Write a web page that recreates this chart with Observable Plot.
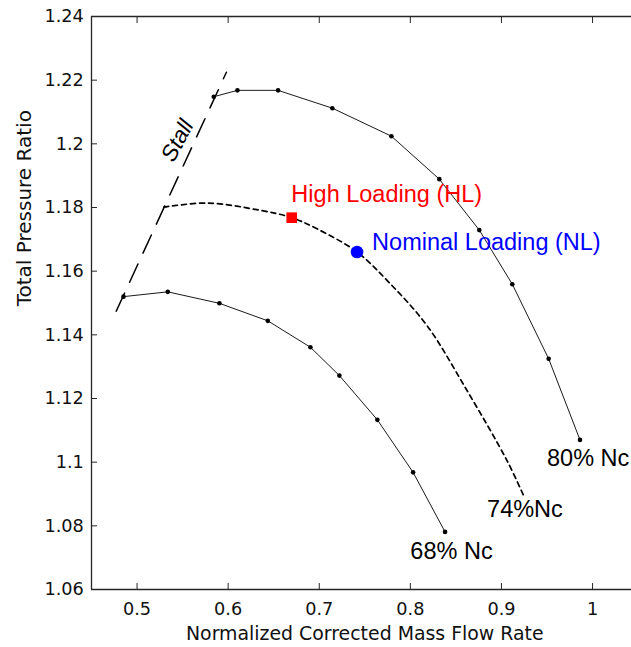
<!DOCTYPE html>
<html>
<head>
<meta charset="utf-8">
<script src="https://cdn.jsdelivr.net/npm/d3@7"></script>
<script src="https://cdn.jsdelivr.net/npm/@observablehq/plot@0.6"></script>
<style>
  html, body { margin: 0; padding: 0; background: white; overflow: hidden; }
</style>
</head>
<body>
<div id="chart"></div>
<script>
// ---- data ----
const xDomain = [0.45, 1.05];
const yDomain = [1.06, 1.24];
const xTicks = [0.5, 0.6, 0.7, 0.8, 0.9, 1];
const xTickLabels = ["0.5", "0.6", "0.7", "0.8", "0.9", "1"];
const yTicks = [1.06, 1.08, 1.1, 1.12, 1.14, 1.16, 1.18, 1.2, 1.22, 1.24];
const yTickLabels = ["1.06", "1.08", "1.1", "1.12", "1.14", "1.16", "1.18", "1.2", "1.22", "1.24"];

const speed80X = [0.5842, 0.6102, 0.6548, 0.7144, 0.7792, 0.8318, 0.8757, 0.9119, 0.9518, 0.9862];
const speed80Y = [1.2148, 1.2168, 1.2168, 1.2112, 1.2024, 1.1889, 1.1729, 1.1559, 1.1325, 1.1070];

const speed68X = [0.4851, 0.5337, 0.5904, 0.6435, 0.6903, 0.7221, 0.7638, 0.8030, 0.8381];
const speed68Y = [1.1520, 1.1535, 1.1499, 1.1444, 1.1361, 1.1272, 1.1133, 1.0968, 1.0781];

const speed74X = [0.5293, 0.5769, 0.6354, 0.6698, 0.6976, 0.7415, 0.7781, 0.8183, 0.8622, 0.9061, 0.9243];
const speed74Y = [1.1801, 1.1814, 1.1791, 1.1768, 1.1733, 1.1660, 1.1560, 1.1429, 1.1225, 1.1005, 1.0895];

const stallX = [0.4771, 0.5981];
const stallY = [1.1474, 1.2225];

const hlPoint = [0.6698, 1.1768];
const nlPoint = [0.7415, 1.1660];

const labelTexts = ["High Loading (HL)", "Nominal Loading (NL)", "80% Nc", "74%Nc", "68% Nc"];
const labelX = [0.6694, 0.7580, 0.9500, 0.8842, 0.8000];
const labelY = [1.1841, 1.1691, 1.1011, 1.0852, 1.0721];
const labelColors = ["#ff0000", "#0000ff", "#000000", "#000000", "#000000"];

const stallLabel = ["Stall"];
const stallLabelX = [0.5444];
const stallLabelY = [1.2010];

const xLabel = "Normalized Corrected Mass Flow Rate";
const yLabel = "Total Pressure Ratio";

// ---- tables ----
const toRows = (xs, ys) => xs.map((x, i) => ({x, y: ys[i]}));
const s80 = toRows(speed80X, speed80Y);
const s68 = toRows(speed68X, speed68Y);
const s74 = toRows(speed74X, speed74Y);
const stall = toRows(stallX, stallY);
const labels = labelTexts.map((t, i) => ({t, x: labelX[i], y: labelY[i], c: labelColors[i]}));
const stallLab = stallLabel.map((t, i) => ({t, x: stallLabelX[i], y: stallLabelY[i]}));

const axisColor = "#262626";
const lineColor = "#1a1a1a";

const chart = Plot.plot({
  width: 631,
  height: 647,
  marginLeft: 91,
  marginRight: 0,
  marginTop: 16,
  marginBottom: 58,
  style: {fontFamily: "DejaVu Sans, sans-serif", fontSize: "17.7px", background: "white", color: "#111"},
  x: {domain: xDomain, range: [91, 637.6], axis: null},
  y: {domain: yDomain, axis: null},
  marks: [
    // frame lines
    Plot.ruleX([xDomain[0]], {stroke: axisColor, strokeWidth: 1.3}),
    Plot.ruleY([yDomain[1]], {stroke: axisColor, strokeWidth: 1.3}),
    Plot.ruleY([yDomain[0]], {stroke: axisColor, strokeWidth: 1.3}),
    // axes
    Plot.axisX({anchor: "bottom", ticks: xTicks, tickSize: -6, tickPadding: 18.7,
      tickFormat: d => xTickLabels[xTicks.indexOf(d)], label: null, stroke: axisColor, fill: "#111"}),
    Plot.axisX({anchor: "top", ticks: xTicks, tickSize: -6, tickFormat: () => "", label: null, stroke: axisColor}),
    Plot.axisY({anchor: "left", ticks: yTicks, tickSize: -6, tickPadding: 13.7,
      tickFormat: d => yTickLabels[yTicks.indexOf(d)], label: null, stroke: axisColor, fill: "#111"}),
    // axis labels
    Plot.text([xLabel], {frameAnchor: "bottom", text: d => d, dy: 44.3, dx: 3.3, lineAnchor: "middle",
      fontSize: 18.9, fill: "#111"}),
    Plot.text([yLabel], {frameAnchor: "left", text: d => d, rotate: -90, dx: -67, dy: 3.3, lineAnchor: "middle",
      fontSize: 20, fill: "#111"}),
    // stall line
    Plot.line(stall, {x: "x", y: "y", stroke: "#000", strokeWidth: 1.5, strokeDasharray: "20,12"}),
    // speed lines
    Plot.line(s74, {x: "x", y: "y", stroke: "#000", strokeWidth: 1.7, strokeDasharray: "5,4", curve: "catmull-rom"}),
    Plot.line(s80, {x: "x", y: "y", stroke: lineColor, strokeWidth: 1}),
    Plot.dot(s80, {x: "x", y: "y", r: 2.3, fill: "#000", stroke: null}),
    Plot.line(s68, {x: "x", y: "y", stroke: lineColor, strokeWidth: 1}),
    Plot.dot(s68, {x: "x", y: "y", r: 2.3, fill: "#000", stroke: null}),
    // operating points
    Plot.dot([hlPoint], {x: d => d[0], y: d => d[1], symbol: "square", r: 6, fill: "#ff0000", stroke: null}),
    Plot.dot([nlPoint], {x: d => d[0], y: d => d[1], r: 6.3, fill: "#0000ff", stroke: null}),
    // annotations
    Plot.text(labels, {x: "x", y: "y", text: "t", fill: "c", textAnchor: "start", lineAnchor: "middle",
      fontFamily: "Liberation Sans, Arial, sans-serif", fontSize: 23.5}),
    Plot.text(stallLab, {x: "x", y: "y", text: "t", rotate: -62, textAnchor: "middle", lineAnchor: "middle",
      fontFamily: "Liberation Sans, Arial, sans-serif", fontSize: 22.5, fontStyle: "italic", fill: "#000"})
  ]
});
document.getElementById("chart").appendChild(chart);
</script>
</body>
</html>
